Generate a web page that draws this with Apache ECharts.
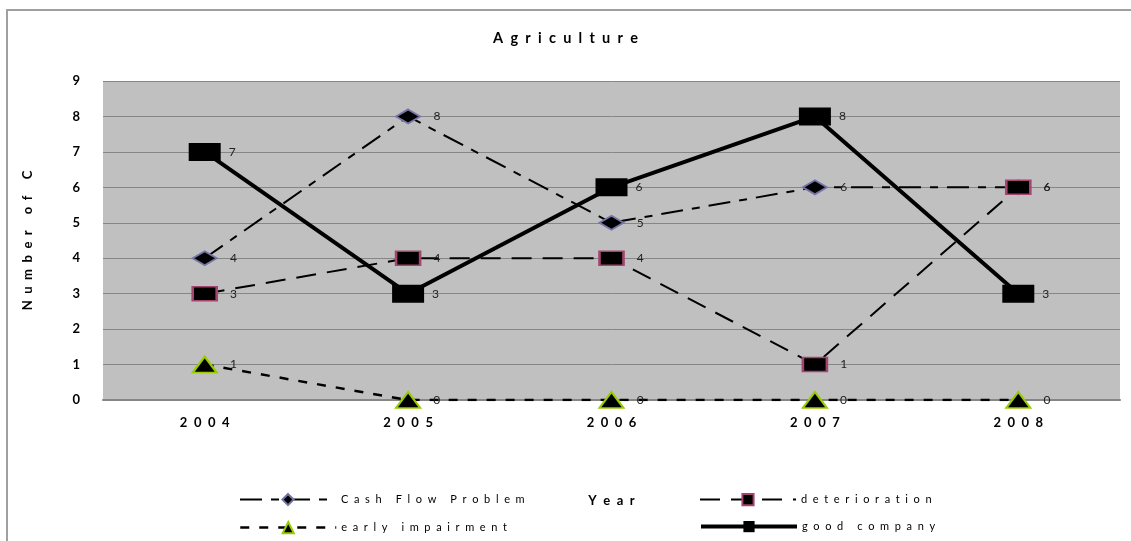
<!DOCTYPE html>
<html>
<head>
<meta charset="utf-8">
<script src="https://cdn.jsdelivr.net/npm/echarts@6/dist/echarts.min.js"></script>
<style>
  html, body { margin: 0; padding: 0; background: #fff; }
  #chartDiv { width: 1131px; height: 541px; }
</style>
</head>
<body>
<div id="chartDiv"></div>
<script>
// chart values
const years = ['2004', '2005', '2006', '2007', '2008'];
const seriesNames = ['Cash Flow Problem', 'deterioration', 'early impairment', 'good company'];
const cashFlowProblem = [4, 8, 5, 6, 6];
const deterioration = [3, 4, 4, 1, 6];
const earlyImpairment = [1, 0, 0, 0, 0];
const goodCompany = [7, 3, 6, 8, 3];
const yTicks = [0, 1, 2, 3, 4, 5, 6, 7, 8, 9];

const FONT = 'Lato';

// spread letters out like the original export
const spaced = (s, gap) => s.split('').join(gap || '\u2002');

const chart = echarts.init(document.getElementById('chartDiv'));

const labelStyle = (dist) => ({
  show: true,
  position: 'right',
  distance: dist,
  color: '#222',
  fontFamily: FONT,
  fontSize: 12
});

// one legend block per item so the 2x2 layout is fixed
const legendAt = (name, left, top) => ({
  data: [name],
  left: left,
  top: top,
  padding: 0,
  itemWidth: 96,
  itemHeight: 14,
  lineStyle: { width: 'inherit' },
  formatter: (n) => spaced(n, '  '),
  textStyle: { fontFamily: FONT, fontSize: 11, color: '#000' }
});

const options = {
  animation: false,
  backgroundColor: '#fff',
  textStyle: { fontFamily: FONT },
  title: {
    text: spaced('Agriculture'),
    left: 'center',
    top: 26,
    textStyle: { fontFamily: FONT, fontWeight: 'bold', fontSize: 14.5, color: '#000' }
  },
  grid: {
    left: 103,
    right: 11,
    top: 81,
    bottom: 141,
    show: true,
    backgroundColor: '#c0c0c0',
    borderWidth: 0
  },
  legend: [
    legendAt(seriesNames[0], 239, 493),
    legendAt(seriesNames[1], 699, 493),
    legendAt(seriesNames[2], 239, 521),
    legendAt(seriesNames[3], 699, 521)
  ],
  xAxis: {
    type: 'category',
    data: years,
    boundaryGap: true,
    name: spaced('Year'),
    nameLocation: 'middle',
    nameGap: 94,
    nameTextStyle: { fontFamily: FONT, fontWeight: 'bold', fontSize: 13, color: '#000' },
    axisLine: { show: true, lineStyle: { color: '#868686', width: 2 } },
    axisTick: { show: false },
    axisLabel: {
      margin: 16,
      fontFamily: FONT,
      fontWeight: 'bold',
      fontSize: 13,
      color: '#000',
      formatter: (v) => spaced(v)
    },
    splitLine: { show: false }
  },
  yAxis: {
    type: 'value',
    min: yTicks[0],
    max: yTicks[yTicks.length - 1],
    interval: 1,
    name: spaced('Number of C'),
    nameLocation: 'middle',
    nameGap: 69,
    nameRotate: 90,
    nameTextStyle: { fontFamily: FONT, fontWeight: 'bold', fontSize: 13, color: '#000' },
    axisLine: { show: false },
    axisTick: { show: false },
    axisLabel: { margin: 23, fontFamily: FONT, fontWeight: 'bold', fontSize: 13, color: '#000' },
    splitLine: { show: true, lineStyle: { color: '#868686', width: 1 } }
  },
  series: [
    {
      name: seriesNames[0],
      type: 'line',
      data: cashFlowProblem,
      symbol: 'diamond',
      symbolSize: [24, 14],
      itemStyle: { color: '#000', borderColor: '#7575a8', borderWidth: 2 },
      lineStyle: { color: '#000', width: 2, type: [22, 9, 8, 9] },
      label: labelStyle(12),
      z: 2
    },
    {
      name: seriesNames[1],
      type: 'line',
      data: deterioration,
      symbol: 'rect',
      symbolSize: [24, 14],
      itemStyle: { color: '#000', borderColor: '#a3456e', borderWidth: 2 },
      lineStyle: { color: '#000', width: 2, type: [20, 11] },
      label: labelStyle(12),
      z: 3
    },
    {
      name: seriesNames[2],
      type: 'line',
      data: earlyImpairment,
      symbol: 'triangle',
      symbolSize: [24, 16],
      itemStyle: { color: '#000', borderColor: '#99cc00', borderWidth: 2 },
      lineStyle: { color: '#000', width: 2.5, type: [9, 10] },
      label: labelStyle(12),
      z: 4
    },
    {
      name: seriesNames[3],
      type: 'line',
      data: goodCompany,
      symbol: 'rect',
      symbolSize: [32, 18],
      itemStyle: { color: '#000', borderWidth: 0 },
      lineStyle: { color: '#000', width: 4, type: 'solid' },
      label: labelStyle(8),
      z: 5
    }
  ],
  graphic: [
    {
      type: 'polyline',
      silent: true,
      shape: { points: [[7, 541], [7, 10], [1131, 10]] },
      style: { stroke: '#a0a0a0', lineWidth: 2, fill: null }
    }
  ]
};

chart.setOption(options);
</script>
</body>
</html>
